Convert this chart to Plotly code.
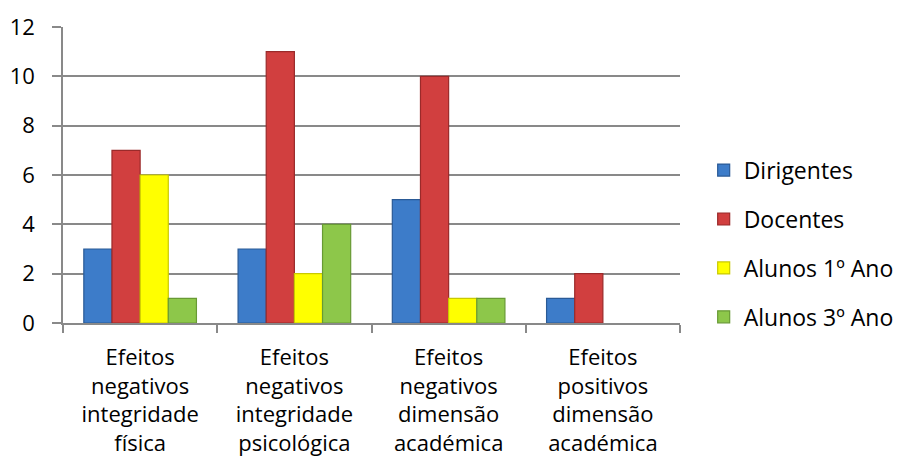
import plotly.graph_objects as go

categories = [
    "Efeitos<br>negativos<br>integridade<br>física",
    "Efeitos<br>negativos<br>integridade<br>psicológica",
    "Efeitos<br>negativos<br>dimensão<br>académica",
    "Efeitos<br>positivos<br>dimensão<br>académica",
]

dirigentes = [3, 3, 5, 1]
docentes = [7, 11, 10, 2]
alunos_1 = [6, 2, 1, 0]
alunos_3 = [1, 4, 1, 0]

series = [
    ("Dirigentes", dirigentes, "#3D7CC9", "#2A5A96"),
    ("Docentes", docentes, "#D13F3F", "#9A2A2A"),
    ("Alunos 1º Ano", alunos_1, "#FFFF00", "#C9C900"),
    ("Alunos 3º Ano", alunos_3, "#8DC74A", "#689A34"),
]

FONT = "Open Sans"
GRID = "#898989"

fig = go.Figure()
for i, (name, vals, fill, edge) in enumerate(series):
    # no outline on empty (zero) bars so they stay invisible
    widths = [1.2 if v else 0 for v in vals]
    fig.add_trace(go.Bar(
        name=name,
        x=categories,
        y=vals,
        marker=dict(color=fill, line=dict(color=edge, width=widths)),
        legendgroup=f"g{i}",
    ))

fig.update_layout(
    width=901,
    height=467,
    margin=dict(l=63, r=221, t=27, b=144, autoexpand=False),
    paper_bgcolor="white",
    plot_bgcolor="white",
    barmode="group",
    bargap=0.27,
    bargroupgap=0,
    font=dict(family=FONT, size=22, color="#000000"),
    showlegend=True,
    legend=dict(
        xref="container", x=0.781, xanchor="left",
        y=0.268, yanchor="middle",
        font=dict(family=FONT, size=23, color="#000000"),
        traceorder="grouped",
        tracegroupgap=16,
        bgcolor="rgba(0,0,0,0)",
    ),
    xaxis=dict(
        automargin=False,
        showline=True, linecolor=GRID, linewidth=1.5,
        ticks="outside", tickson="boundaries", ticklen=8, tickcolor=GRID, tickwidth=1.5,
        tickfont=dict(family=FONT, size=22, color="#000000"),
        ticklabelstandoff=14,
        showgrid=False,
        tickangle=0,
    ),
    yaxis=dict(
        automargin=False,
        range=[0, 12], dtick=2,
        showline=True, linecolor=GRID, linewidth=1.5,
        ticks="outside", ticklen=9, tickcolor=GRID, tickwidth=1.5,
        ticklabelstandoff=13,
        showgrid=True, gridcolor=GRID, gridwidth=1.5,
        zeroline=False,
        tickfont=dict(family=FONT, size=22, color="#000000"),
    ),
)

fig.write_html("out.html")
